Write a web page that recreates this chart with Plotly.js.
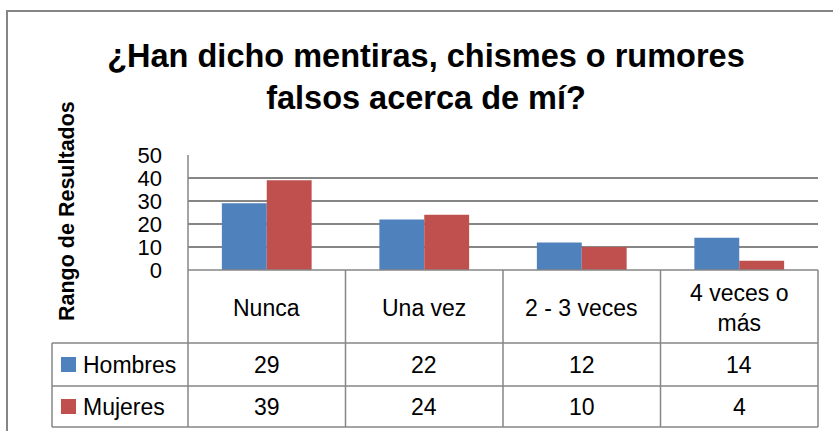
<!DOCTYPE html>
<html>
<head>
<meta charset="utf-8">
<script src="https://cdn.plot.ly/plotly-3.0.1.min.js"></script>
<style>html,body{margin:0;padding:0;background:#fff;}#chart{width:833px;height:431px;}</style>
</head>
<body>
<div id="chart"></div>
<script>
// ---- data ----
const categories = ["Nunca", "Una vez", "2 - 3 veces", "4 veces o<br>más"];
const hombres = [29, 22, 12, 14];
const mujeres = [39, 24, 10, 4];
const seriesNames = ["Hombres", "Mujeres"];
const yTicks = [0, 10, 20, 30, 40, 50];
const titleText = "¿Han dicho mentiras, chismes o rumores<br>falsos acerca de mí?";
const yTitle = "Rango de Resultados";

// ---- geometry (pixels) ----
const W = 833, H = 431;
const L = 188, R = 818, T = 155, B = 270;
const colors = ["#4F81BD", "#C0504D"];
const gridColor = "#868686";
const px2x = p => (p - L) / (R - L);
const px2y = p => (B - p) / (B - T);
const font = "Liberation Sans, Arial, sans-serif";

const rowLines = [270, 343, 386, 427];
const tableLeft = 52;

const traces = [
  {type: "bar", x: [0,1,2,3], y: hombres, name: seriesNames[0], marker: {color: colors[0]}, hoverinfo: "none"},
  {type: "bar", x: [0,1,2,3], y: mujeres, name: seriesNames[1], marker: {color: colors[1]}, hoverinfo: "none"}
];

const shapes = [];
const line = (x0, y0, x1, y1, w) => shapes.push({type: "line", xref: "paper", yref: "paper",
  x0: px2x(x0), y0: px2y(y0), x1: px2x(x1), y1: px2y(y1), line: {color: gridColor, width: w || 1.5}});
// outer chart border
shapes.push({type: "rect", xref: "paper", yref: "paper", x0: px2x(7), y0: px2y(11), x1: px2x(900), y1: px2y(500),
  line: {color: gridColor, width: 2}, fillcolor: "rgba(0,0,0,0)"});
// table horizontal lines
line(L, rowLines[0], R, rowLines[0]);
for (let i = 1; i < rowLines.length; i++) line(tableLeft, rowLines[i], R, rowLines[i]);
// table vertical lines
line(tableLeft, rowLines[1], tableLeft, rowLines[3]);
line(L, T, L, rowLines[3]);
for (let k = 1; k <= categories.length; k++) {
  const xp = L + k * (R - L) / categories.length;
  line(xp, rowLines[0], xp, rowLines[3]);
}
// legend keys
[hombres, mujeres].forEach((s, i) => {
  const cy = (rowLines[i + 1] + rowLines[i + 2]) / 2;
  shapes.push({type: "rect", xref: "paper", yref: "paper", x0: px2x(61), x1: px2x(76), y0: px2y(cy - 7.5), y1: px2y(cy + 7.5),
    line: {width: 0}, fillcolor: colors[i]});
});

const annotations = [];
categories.forEach((c, k) => {
  annotations.push({xref: "x", yref: "paper", x: k, y: px2y((rowLines[0] + rowLines[1]) / 2 + 1), text: c,
    showarrow: false, font: {family: font, size: 23, color: "#000"}, xanchor: "center", yanchor: "middle"});
});
[hombres, mujeres].forEach((s, i) => {
  const cy = (rowLines[i + 1] + rowLines[i + 2]) / 2;
  s.forEach((v, k) => annotations.push({xref: "x", yref: "paper", x: k, y: px2y(cy), text: String(v),
    showarrow: false, font: {family: font, size: 23, color: "#000"}, xanchor: "center", yanchor: "middle"}));
  annotations.push({xref: "paper", yref: "paper", x: px2x(81), y: px2y(cy), text: seriesNames[i],
    showarrow: false, font: {family: font, size: 23, color: "#000"}, xanchor: "left", yanchor: "middle"});
});
annotations.push({xref: "paper", yref: "paper", x: px2x(67), y: px2y(211), text: "<b>" + yTitle + "</b>",
  textangle: -90, showarrow: false, font: {family: font, size: 21.5, color: "#000"}, xanchor: "center", yanchor: "middle"});

const layout = {
  width: W, height: H,
  margin: {l: L, r: W - R, t: T, b: H - B, pad: 0},
  paper_bgcolor: "#fff", plot_bgcolor: "#fff",
  showlegend: false,
  bargap: 0.43, bargroupgap: 0, barmode: "group",
  title: {text: "<b>" + titleText + "</b>", font: {family: font, size: 32.5, color: "#000"},
    xref: "container", x: 426 / W, yref: "container", y: 1 - 67 / H, yanchor: "top", xanchor: "center"},
  xaxis: {range: [-0.5, 3.5], showticklabels: false, ticks: "", showgrid: false, zeroline: false, showline: false, fixedrange: true},
  yaxis: {range: [0, 50], tickvals: yTicks, ticktext: yTicks.map(String), showgrid: true, gridcolor: gridColor, gridwidth: 1.5,
    zeroline: false, showline: false, ticks: "", ticklabelstandoff: 25,
    tickfont: {family: font, size: 22, color: "#000"}, fixedrange: true},
  shapes: shapes,
  annotations: annotations
};
Plotly.newPlot("chart", traces, layout, {staticPlot: true, displayModeBar: false});
</script>
</body>
</html>
